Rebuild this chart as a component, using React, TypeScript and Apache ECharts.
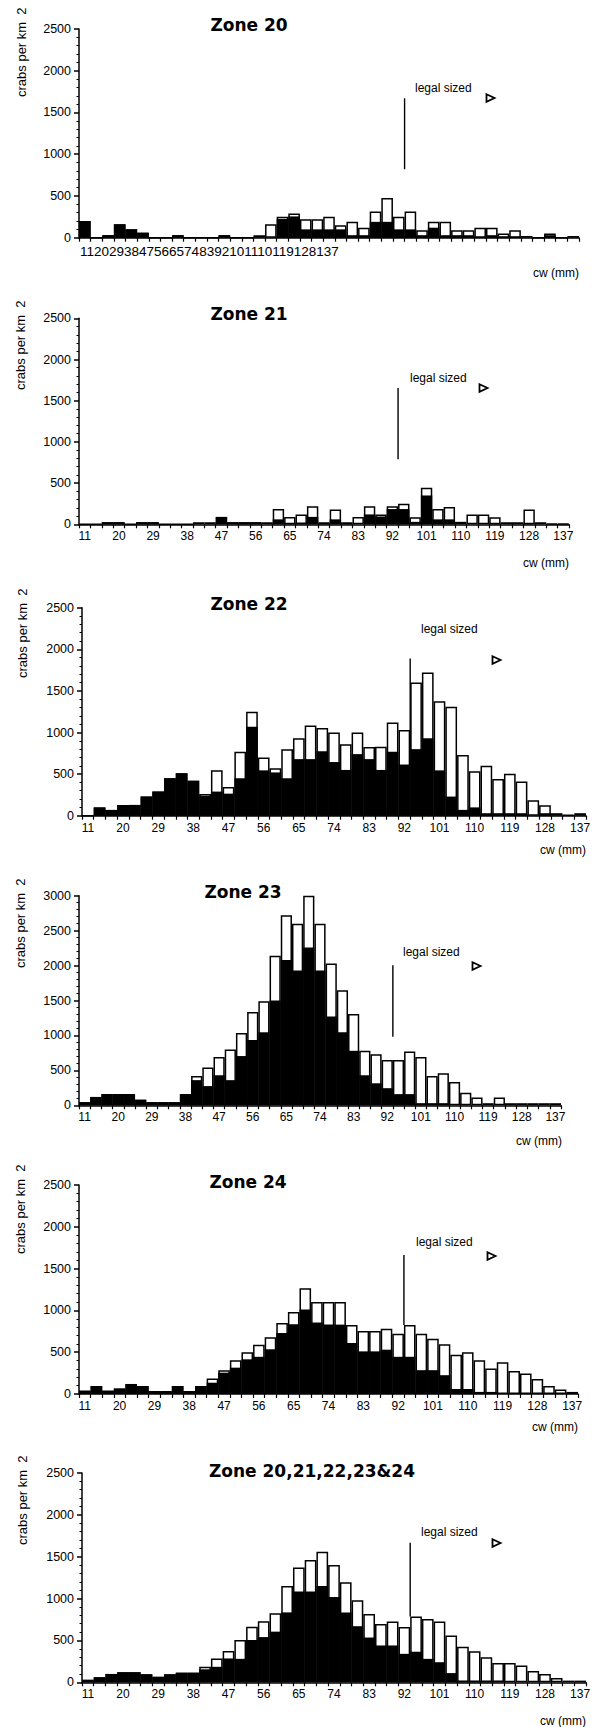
import React, { useEffect, useRef } from 'react';
import * as echarts from 'echarts';

// carapace width bins (mm)
const CW = [11, 14, 17, 20, 23, 26, 29, 32, 35, 38, 41, 44, 47, 50, 53, 56, 59, 62, 65, 68, 71, 74, 77, 80, 83, 86, 89, 92, 95, 98, 101, 104, 107, 110, 113, 116, 119, 122, 125, 128, 131, 134, 137];
const TICK_LABELS = ['11', '20', '29', '38', '47', '56', '65', '74', '83', '92', '101', '110', '119', '128', '137'];
const Y_TICKS_2500 = [0, 500, 1000, 1500, 2000, 2500];
const Y_TICKS_3000 = [0, 500, 1000, 1500, 2000, 2500, 3000];

// white bars (total) and black bars (subset), crabs per km2
const Z20_WHITE = [200, 0, 30, 160, 100, 60, 0, 0, 30, 0, 0, 0, 30, 0, 0, 30, 160, 250, 290, 220, 220, 250, 150, 190, 120, 315, 475, 250, 315, 90, 190, 190, 90, 90, 120, 120, 50, 90, 20, 0, 50, 0, 20];
const Z20_BLACK = [200, 0, 30, 160, 100, 60, 0, 0, 30, 0, 0, 0, 30, 0, 0, 0, 0, 225, 255, 100, 100, 100, 100, 30, 30, 190, 190, 100, 100, 30, 120, 30, 30, 30, 10, 30, 10, 10, 0, 0, 30, 0, 0];

const Z21_WHITE = [0, 0, 25, 25, 0, 25, 25, 0, 0, 0, 25, 25, 90, 25, 25, 25, 25, 185, 90, 120, 220, 25, 180, 25, 90, 220, 120, 220, 250, 85, 445, 185, 210, 30, 120, 120, 85, 25, 25, 180, 25, 5, 5];
const Z21_BLACK = [0, 0, 25, 25, 0, 25, 25, 0, 0, 0, 0, 0, 90, 25, 25, 25, 0, 60, 10, 20, 90, 10, 60, 10, 0, 120, 95, 185, 185, 30, 350, 60, 60, 0, 0, 0, 10, 0, 0, 10, 0, 0, 0];

const Z22_WHITE = [0, 100, 70, 130, 130, 230, 290, 450, 510, 420, 260, 545, 345, 770, 1250, 700, 570, 800, 930, 1085, 1055, 1000, 860, 1000, 825, 830, 1120, 1030, 1600, 1720, 1375, 1310, 730, 535, 600, 440, 505, 410, 185, 125, 30, 10, 30];
const Z22_BLACK = [0, 100, 70, 130, 130, 230, 290, 450, 510, 420, 240, 290, 265, 450, 1070, 545, 520, 450, 680, 680, 775, 645, 550, 740, 680, 550, 770, 615, 800, 930, 545, 230, 70, 100, 30, 30, 30, 30, 0, 30, 0, 0, 0];

const Z23_WHITE = [45, 120, 160, 160, 160, 80, 45, 45, 45, 160, 420, 540, 690, 800, 1035, 1335, 1490, 2140, 2720, 2600, 3000, 2600, 2030, 1645, 1305, 780, 730, 650, 650, 770, 690, 420, 460, 335, 180, 110, 30, 110, 30, 30, 30, 30, 30];
const Z23_BLACK = [45, 120, 160, 160, 160, 80, 45, 45, 45, 160, 360, 275, 430, 360, 705, 935, 1045, 1500, 2080, 1930, 2260, 1930, 1270, 1045, 780, 430, 315, 245, 160, 160, 30, 30, 30, 0, 0, 0, 0, 0, 0, 0, 0, 0, 0];

const Z24_WHITE = [40, 95, 40, 65, 120, 95, 35, 35, 95, 35, 95, 185, 285, 405, 500, 590, 680, 850, 980, 1265, 1100, 1100, 1100, 825, 755, 755, 780, 720, 825, 720, 660, 595, 470, 500, 405, 305, 380, 275, 245, 180, 95, 55, 25];
const Z24_BLACK = [40, 95, 40, 65, 120, 95, 35, 35, 95, 35, 95, 135, 255, 315, 415, 445, 535, 730, 835, 1010, 855, 830, 830, 610, 510, 510, 530, 445, 445, 285, 285, 225, 60, 60, 25, 25, 0, 0, 0, 0, 0, 0, 0];

const ALL_WHITE = [30, 60, 100, 120, 120, 95, 65, 95, 115, 115, 185, 285, 375, 505, 665, 730, 825, 1150, 1370, 1460, 1560, 1400, 1195, 980, 815, 695, 725, 660, 785, 755, 725, 560, 425, 370, 300, 230, 230, 200, 135, 100, 50, 20, 20];
const ALL_BLACK = [30, 60, 100, 120, 120, 95, 65, 95, 115, 115, 155, 185, 285, 280, 505, 540, 605, 835, 1085, 1085, 1150, 1020, 835, 670, 535, 440, 440, 340, 365, 280, 240, 110, 20, 20, 20, 20, 0, 0, 0, 0, 0, 0, 0];

// legal size boundary: left edge of the 95 mm bin, line extent in y units
const LEGAL_BIN = 95;
const LEGAL_LINES = [
  [820, 1670],
  [790, 1655],
  [800, 1890],
  [980, 2005],
  [825, 1663],
  [785, 1666],
];

const TITLES = ['Zone 20', 'Zone 21', 'Zone 22', 'Zone 23', 'Zone 24', 'Zone 20,21,22,23&24'];

const PANELS = [
  { white: Z20_WHITE, black: Z20_BLACK, ticks: Y_TICKS_2500, grid: { left: 79, top: 29, width: 500, height: 208.7 }, title: [249, 25], legal: [415, 88], tri: [490, 98], yname: [21, 97], cw: [579, 273], concat: true },
  { white: Z21_WHITE, black: Z21_BLACK, ticks: Y_TICKS_2500, grid: { left: 79, top: 318.3, width: 490, height: 206 }, title: [249, 314], legal: [410, 378], tri: [483, 388], yname: [20, 390], cw: [569, 563], concat: false },
  { white: Z22_WHITE, black: Z22_BLACK, ticks: Y_TICKS_2500, grid: { left: 82, top: 607.7, width: 504, height: 208 }, title: [249, 604], legal: [421, 629], tri: [496, 660], yname: [22, 678], cw: [586, 850], concat: false },
  { white: Z23_WHITE, black: Z23_BLACK, ticks: Y_TICKS_3000, grid: { left: 79, top: 895.7, width: 482, height: 209.6 }, title: [243, 892], legal: [403, 952], tri: [476, 966], yname: [20, 968], cw: [562, 1141], concat: false },
  { white: Z24_WHITE, black: Z24_BLACK, ticks: Y_TICKS_2500, grid: { left: 79, top: 1185, width: 499, height: 209 }, title: [248, 1182], legal: [416, 1242], tri: [491, 1256], yname: [20, 1254], cw: [578, 1427], concat: false },
  { white: ALL_WHITE, black: ALL_BLACK, ticks: Y_TICKS_2500, grid: { left: 82, top: 1473, width: 504, height: 209.3 }, title: [312, 1471], legal: [421, 1532], tri: [496, 1543], yname: [22, 1545], cw: [586, 1721], concat: false },
];

const SANS = '"Liberation Sans", Arial, Helvetica, sans-serif';

function txt(x: number, y: number, text: string, size: number, align: string, extra: any = {}) {
  return {
    type: 'text',
    x,
    y,
    ...extra,
    style: {
      text,
      fontSize: size,
      fontFamily: extra.fontFamily || SANS,
      fontWeight: extra.fontWeight || 'normal',
      fill: '#000',
      textAlign: align,
      textVerticalAlign: 'middle',
      align,
      verticalAlign: 'middle',
    },
  };
}

function buildOption() {
  const grid: any[] = [];
  const xAxis: any[] = [];
  const yAxis: any[] = [];
  const series: any[] = [];
  const graphic: any[] = [];
  const cats = CW.map(String);
  const legalIdx = CW.indexOf(LEGAL_BIN);

  PANELS.forEach((p, i) => {
    grid.push({ ...p.grid, containLabel: false, outerBoundsMode: 'none' });
    xAxis.push({
      type: 'category',
      gridIndex: i,
      data: cats,
      boundaryGap: true,
      axisLine: { show: true, lineStyle: { color: '#000', width: 1.5 } },
      axisTick: { show: true, interval: 0, length: 4, lineStyle: { color: '#000', width: 1.2 } },
      axisLabel: {
        show: !p.concat,
        interval: 2,
        color: '#000',
        fontSize: 12,
        fontFamily: SANS,
        margin: 6,
      },
      splitLine: { show: false },
    });
    const yMax = p.ticks[p.ticks.length - 1];
    yAxis.push({
      type: 'value',
      gridIndex: i,
      min: 0,
      max: yMax,
      interval: p.ticks[1] - p.ticks[0],
      axisLine: { show: true, lineStyle: { color: '#000', width: 1.5 } },
      axisTick: { show: true, length: 5, lineStyle: { color: '#000', width: 1.5 } },
      minorTick: { show: true, splitNumber: 5, length: 2.5, lineStyle: { color: '#000', width: 1 } },
      axisLabel: {
        color: '#000',
        fontSize: 12.5,
        fontFamily: SANS,
        margin: 8,
        formatter: (v: number) => String(v),
      },
      splitLine: { show: false },
      minorSplitLine: { show: false },
    });
    series.push({
      type: 'bar',
      xAxisIndex: i,
      yAxisIndex: i,
      data: p.white,
      barCategoryGap: '0%',
      barGap: '-100%',
      itemStyle: { color: '#fff', borderColor: '#000', borderWidth: 1.5 },
      silent: true,
      z: 2,
    });
    series.push({
      type: 'bar',
      xAxisIndex: i,
      yAxisIndex: i,
      data: p.black,
      barCategoryGap: '0%',
      barGap: '-100%',
      itemStyle: { color: '#000' },
      silent: true,
      z: 3,
    });
    series.push({
      type: 'custom',
      xAxisIndex: i,
      yAxisIndex: i,
      data: [[legalIdx, LEGAL_LINES[i][0], LEGAL_LINES[i][1]]],
      encode: { x: 0, y: [1, 2] },
      silent: true,
      z: 4,
      renderItem: (params: any, api: any) => {
        const idx = api.value(0);
        const a = api.coord([idx, api.value(1)]);
        const b = api.coord([idx, api.value(2)]);
        const bw = api.size([1, 0])[0];
        const x = a[0] - bw / 2;
        return {
          type: 'line',
          shape: { x1: x, y1: a[1], x2: x, y2: b[1] },
          style: { stroke: '#000', lineWidth: 1.4 },
        };
      },
    });

    // annotations
    graphic.push(txt(p.title[0], p.title[1], TITLES[i], 17, 'center', { fontWeight: 'bold', fontFamily: '"DejaVu Sans", Verdana, sans-serif' }));
    graphic.push(txt(p.legal[0], p.legal[1], 'legal sized', 12, 'left'));
    graphic.push({
      type: 'polygon',
      x: p.tri[0],
      y: p.tri[1],
      shape: { points: [[-3.5, -3.8], [4.5, 0], [-3.5, 3.8]] },
      style: { fill: '#fff', stroke: '#000', lineWidth: 1.8 },
    });
    graphic.push(txt(p.yname[0], p.yname[1], 'crabs per km  2', 13, 'left', { rotation: Math.PI / 2 }));
    graphic.push(txt(p.cw[0], p.cw[1], 'cw (mm)', 12, 'right'));
    if (p.concat) {
      graphic.push(txt(p.grid.left + 1, p.grid.top + p.grid.height + 14, TICK_LABELS.join(''), 13.5, 'left'));
    }
  });

  return {
    animation: false,
    backgroundColor: '#fff',
    grid,
    xAxis,
    yAxis,
    series,
    graphic,
  };
}

export default function App() {
  const ref = useRef<HTMLDivElement>(null);
  useEffect(() => {
    document.body.style.margin = '0';
    const chart = echarts.init(ref.current as HTMLDivElement, null, { renderer: 'svg' });
    chart.setOption(buildOption() as any);
    return () => {
      chart.dispose();
    };
  }, []);
  return <div ref={ref} style={{ width: 592, height: 1727, background: '#fff' }} />;
}
